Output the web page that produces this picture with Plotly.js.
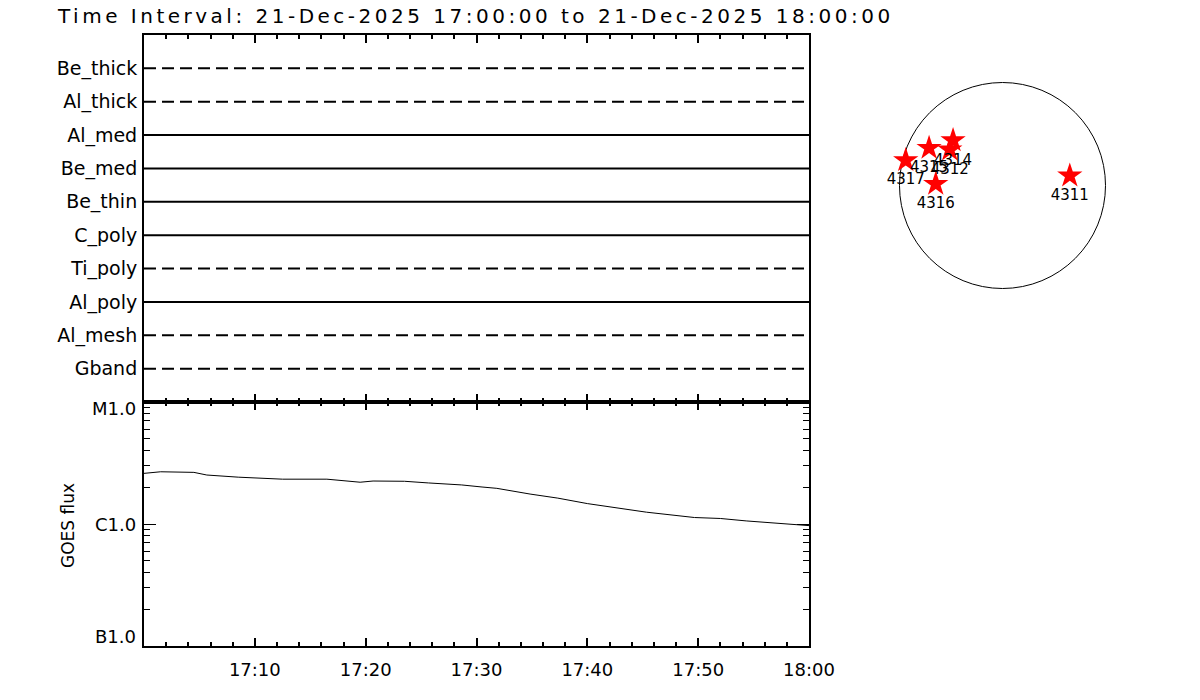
<!DOCTYPE html>
<html>
<head>
<meta charset="utf-8">
<script src="https://cdn.plot.ly/plotly-3.0.1.min.js"></script>
<style>
  html, body { margin: 0; padding: 0; background: #fff; }
  #chart { width: 1200px; height: 700px; }
  .gtitle { letter-spacing: 3.5px; }
</style>
</head>
<body>
<div id="chart"></div>
<script>
// ---------------- data ----------------
var dayStr = "2025-12-21";
var timeStart = "17:00:00";
var timeEnd = "18:00:00";

// filter rows, top to bottom
var filterNames = ["Be_thick", "Al_thick", "Al_med", "Be_med", "Be_thin", "C_poly", "Ti_poly", "Al_poly", "Al_mesh", "Gband"];
// true = filter active (solid line), false = inactive (dashed)
var filterActive = [false, false, true, true, true, true, false, true, false, false];

// GOES flux (W/m^2)
var goesTime = ["17:00:00", "17:01:30", "17:04:30", "17:05:40", "17:08:30", "17:10:30", "17:12:30", "17:16:30",
                "17:17:40", "17:19:30", "17:20:40", "17:23:30", "17:25:40", "17:28:40", "17:30:30", "17:31:50",
                "17:34:50", "17:37:20", "17:40:00", "17:43:00", "17:45:20", "17:49:40", "17:52:00", "17:54:20", "18:00:00"];
var goesFlux = [2.60e-6, 2.68e-6, 2.65e-6, 2.52e-6, 2.42e-6, 2.37e-6, 2.33e-6, 2.33e-6,
                2.27e-6, 2.20e-6, 2.25e-6, 2.24e-6, 2.17e-6, 2.09e-6, 2.01e-6, 1.96e-6,
                1.76e-6, 1.63e-6, 1.47e-6, 1.35e-6, 1.25e-6, 1.13e-6, 1.11e-6, 1.06e-6, 0.97e-6];

// GOES class tick labels
var goesTickVals = [1e-7, 1e-6, 1e-5];
var goesTickText = ["B1.0", "C1.0", "M1.0"];

// time tick labels
var timeTickVals = ["17:00:00", "17:10:00", "17:20:00", "17:30:00", "17:40:00", "17:50:00", "18:00:00"];
var timeTickText = ["", "17:10", "17:20", "17:30", "17:40", "17:50", "18:00"];

// active regions (heliocentric arcsec)
var arNumber = ["4311", "4312", "4314", "4315", "4316", "4317"];
var arX = [637, -499, -468, -695, -632, -916];
var arY = [93, 339, 427, 355, 14, 238];
var solarRadius = 975;

// ---------------- build ----------------
function t(s) { return dayStr + " " + s; }
var xRange = [t(timeStart), t(timeEnd)];

var font = "DejaVu Sans, sans-serif";
var traces = [];

// filter lines (top panel)
filterNames.forEach(function (name, i) {
  traces.push({
    type: "scatter", mode: "lines",
    x: [t(timeStart), t(timeEnd)], y: [name, name],
    xaxis: "x2", yaxis: "y2",
    line: { color: "#000", width: 2, dash: filterActive[i] ? "solid" : "12px,6px" },
    hoverinfo: "skip", cliponaxis: false
  });
});

// GOES curve
traces.push({
  type: "scatter", mode: "lines",
  x: goesTime.map(t), y: goesFlux,
  xaxis: "x", yaxis: "y",
  line: { color: "#000", width: 1 }
});

// active regions
traces.push({
  type: "scatter", mode: "markers+text",
  x: arX, y: arY, text: arNumber,
  xaxis: "x3", yaxis: "y3",
  textposition: "bottom center",
  textfont: { family: font, size: 15, color: "#000" },
  marker: { symbol: "star", size: 19, color: "#ff0000", line: { width: 0 } },
  cliponaxis: false
});

var W = 1046, H = 611, L = 144, T = 35;
function px2fx(p) { return (p - L) / W; }
function px2fy(p) { return (T + H - p) / H; }

var split = px2fy(402);
var xEnd = px2fx(809);

var timeAxisBase = {
  type: "date", range: xRange, domain: [0, xEnd],
  tickmode: "array", tickvals: timeTickVals.map(t), ticktext: timeTickText,
  ticks: "inside", ticklen: 8, tickwidth: 2, tickcolor: "#000",
  minor: { dtick: 120000, ticks: "inside", ticklen: 4, tickwidth: 2, tickcolor: "#000" },
  showline: true, linewidth: 2, linecolor: "#000", mirror: "ticks",
  showgrid: false, zeroline: false, ticklabelstandoff: 6,
  tickfont: { family: font, size: 18, color: "#000" }
};

var xaxis = Object.assign({}, timeAxisBase, { anchor: "y", showticklabels: true });
var xaxis2 = Object.assign({}, timeAxisBase, { anchor: "y2", showticklabels: false });

var minorLog = [];
[1e-7, 1e-6].forEach(function (d) { for (var k = 2; k <= 9; k++) minorLog.push(k * d); });

// GOES class labels as annotations, nudged inside the range like the original
var classShift = [10, 0, -6];
var annotations = goesTickText.map(function (txt, i) {
  return {
    text: txt, showarrow: false,
    xref: "paper", yref: "y", x: px2fx(138), y: Math.log10(goesTickVals[i]),
    xanchor: "right", yanchor: "middle", yshift: classShift[i],
    font: { family: font, size: 18, color: "#000" }
  };
});
annotations.push({
  text: "GOES flux", textangle: -90, showarrow: false,
  xref: "paper", yref: "paper", x: px2fx(68), y: px2fy(525),
  xanchor: "center", yanchor: "middle",
  font: { family: font, size: 17, color: "#000" }
});

var layout = {
  width: 1200, height: 700,
  paper_bgcolor: "#fff", plot_bgcolor: "#fff",
  margin: { l: L, r: 1200 - L - W, t: T, b: 700 - T - H, pad: 0 },
  showlegend: false,
  font: { family: font, color: "#000" },
  title: {
    text: "Time Interval: 21-Dec-2025 17:00:00 to 21-Dec-2025 18:00:00",
    font: { family: font, size: 20, color: "#000" },
    xref: "container", yref: "container",
    x: 58 / 1200, xanchor: "left", y: 1 - 16 / 700, yanchor: "middle"
  },
  xaxis: xaxis,
  xaxis2: xaxis2,
  yaxis: {
    type: "log", range: [-7, -5], domain: [0, split], anchor: "x",
    tickmode: "array", tickvals: goesTickVals, ticktext: goesTickText, showticklabels: false,
    ticks: "inside", ticklen: 12, tickwidth: 1, tickcolor: "#000",
    minor: { tickmode: "array", tickvals: minorLog, ticks: "inside", ticklen: 6, tickwidth: 1, tickcolor: "#000" },
    showline: true, linewidth: 2, linecolor: "#000", mirror: "ticks",
    showgrid: false, zeroline: false
  },
  yaxis2: {
    type: "category", categoryorder: "array", categoryarray: filterNames.slice().reverse(),
    range: [-1, filterNames.length], domain: [split, 1], anchor: "x2",
    ticks: "", showline: true, linewidth: 2, linecolor: "#000", mirror: true,
    showgrid: false, zeroline: false, ticklabelstandoff: 1,
    tickfont: { family: font, size: 19, color: "#000" }
  },
  xaxis3: {
    domain: [px2fx(880), px2fx(1125)], anchor: "y3", range: [-1159.6, 1159.6],
    visible: false, showgrid: false, zeroline: false
  },
  yaxis3: {
    domain: [px2fy(308), px2fy(63)], anchor: "x3", range: [-1159.6, 1159.6],
    visible: false, showgrid: false, zeroline: false
  },
  shapes: [{
    type: "circle", xref: "x3", yref: "y3",
    x0: -solarRadius, x1: solarRadius, y0: -solarRadius, y1: solarRadius,
    line: { color: "#000", width: 1 }, layer: "below"
  }],
  annotations: annotations
};

Plotly.newPlot("chart", traces, layout, { staticPlot: true, displayModeBar: false });
</script>
</body>
</html>
